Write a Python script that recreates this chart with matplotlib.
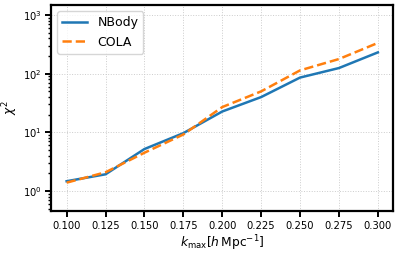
import matplotlib
matplotlib.use("Agg")
import matplotlib.pyplot as plt

kmax = [0.100, 0.125, 0.150, 0.175, 0.200, 0.225, 0.250, 0.275, 0.300]
chi2_nbody = [1.47, 1.93, 5.2, 9.7, 22.7, 40, 86, 125, 231]
chi2_cola = [1.39, 2.09, 4.5, 9.2, 27, 50, 114, 178, 335]

fig = plt.figure(figsize=(3.99, 2.54), dpi=100)
ax = fig.add_axes([0.128, 0.170, 0.858, 0.810])

ax.plot(kmax, chi2_nbody, color="#1f77b4", lw=1.8, label="NBody")
ax.plot(kmax, chi2_cola, color="#ff7f0e", lw=1.8, ls="--", label="COLA")

ax.set_yscale("log")
ax.set_ylim(0.46, 1480)
ax.set_xticks(kmax)
ax.set_xticklabels(["%.3f" % k for k in kmax])
ax.grid(True, color="#cccccc", lw=0.7, ls=":")
ax.set_axisbelow(True)

for s in ax.spines.values():
    s.set_linewidth(1.6)
ax.tick_params(which="major", width=1.4, length=4, labelsize=7.2, pad=3)
ax.tick_params(which="minor", width=1.0, length=2.5)

ax.set_xlabel(r"$k_{\rm max}[h\,{\rm Mpc}^{-1}]$", fontsize=8.8, labelpad=2)
ax.set_ylabel(r"$\chi^2$", fontsize=8.8, labelpad=2)
ax.legend(loc="upper left", fontsize=9, handlelength=2.0)

fig.savefig("out.png", dpi=100)
